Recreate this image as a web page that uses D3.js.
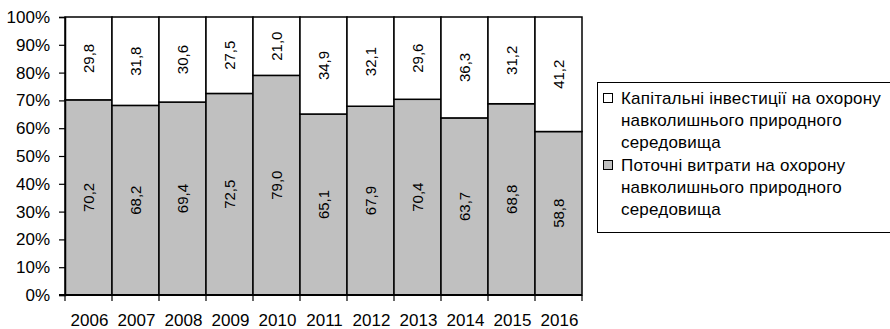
<!DOCTYPE html>
<html><head><meta charset="utf-8">
<script src="https://cdn.jsdelivr.net/npm/d3@7"></script>
<style>body{margin:0;background:#fff}svg{display:block;font-family:"Liberation Sans",Arial,sans-serif}</style>
</head><body>
<script>
const years = ["2006","2007","2008","2009","2010","2011","2012","2013","2014","2015","2016"];
const current = [70.2,68.2,69.4,72.5,79.0,65.1,67.9,70.4,63.7,68.8,58.8];
const capital = [29.8,31.8,30.6,27.5,21.0,34.9,32.1,29.6,36.3,31.2,41.2];
const yTicks = [0,10,20,30,40,50,60,70,80,90,100];
const legendLines = [
  ["Капітальні інвестиції на охорону","навколишнього природного","середовища"],
  ["Поточні витрати на охорону","навколишнього природного","середовища"]
];
const fmt = v => v.toFixed(1).replace(".", ",");

const W=890,H=329;
const svg=d3.select("body").append("svg").attr("width",W).attr("height",H);
const L=65,R=582,T=17,B=295;
const x=d3.scaleBand().domain(years).range([L,R]).padding(0);
const y=d3.scaleLinear().domain([0,100]).range([B,T]);

const g=svg.append("g");
years.forEach((yr,i)=>{
  const c=current[i], k=capital[i];
  g.append("rect").attr("x",x(yr)).attr("width",x.bandwidth())
    .attr("y",y(c)).attr("height",y(0)-y(c))
    .attr("fill","#c0c0c0").attr("stroke","#000").attr("stroke-width",1.5);
  g.append("rect").attr("x",x(yr)).attr("width",x.bandwidth())
    .attr("y",y(c+k)).attr("height",y(c)-y(c+k))
    .attr("fill","#fff").attr("stroke","#000").attr("stroke-width",1.5);
  const cx=x(yr)+x.bandwidth()/2;
  [[c,(y(0)+y(c))/2],[k,(y(c)+y(c+k))/2]].forEach(([v,cy])=>{
    g.append("text").attr("transform",`translate(${cx+5},${cy}) rotate(-90)`)
      .attr("text-anchor","middle").attr("font-size",15).text(fmt(v));
  });
});

// y axis
const ya=svg.append("g").attr("transform",`translate(${L},0)`)
  .call(d3.axisLeft(y).tickValues(yTicks).tickFormat(d=>d+"%").tickSize(6).tickPadding(9));
ya.select(".domain").attr("stroke","#000").attr("stroke-width",1.5);
ya.selectAll("line").attr("stroke","#000").attr("stroke-width",1.2);
ya.selectAll("text").attr("font-size",17).attr("font-family","Liberation Sans, Arial, sans-serif").attr("fill","#000");

// x axis
const boundaries = years.map(d=>x(d)).concat([R]);
const xa=svg.append("g");
xa.append("line").attr("x1",L-6).attr("x2",R).attr("y1",B).attr("y2",B).attr("stroke","#000").attr("stroke-width",2);
boundaries.forEach(bx=>{
  xa.append("line").attr("x1",bx).attr("x2",bx).attr("y1",B).attr("y2",B+6).attr("stroke","#000").attr("stroke-width",1.2);
});
years.forEach(yr=>{
  xa.append("text").attr("x",x(yr)+x.bandwidth()/2+1).attr("y",326).attr("text-anchor","middle")
    .attr("font-size",17).text(yr);
});

// legend
const lg=svg.append("g");
lg.append("rect").attr("x",597.5).attr("y",82.5).attr("width",300).attr("height",150)
  .attr("fill","#fff").attr("stroke","#000").attr("stroke-width",1);
const fills=["#fff","#c0c0c0"];
const baselines=[[104,126,148],[171,193,215]];
legendLines.forEach((lines,i)=>{
  lg.append("rect").attr("x",603.5).attr("y",baselines[i][0]-10.5).attr("width",9).attr("height",9)
    .attr("fill",fills[i]).attr("stroke","#000").attr("stroke-width",1);
  lines.forEach((t,j)=>{
    lg.append("text").attr("x",621).attr("y",baselines[i][j]).attr("font-size",17)
      .attr("letter-spacing",0.2).text(t);
  });
});
</script>
</body></html>
